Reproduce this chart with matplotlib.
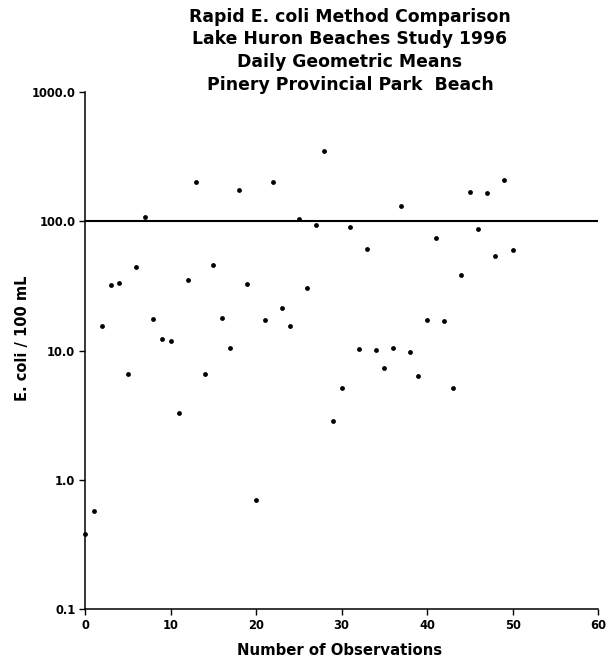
import matplotlib

matplotlib.use("Agg")
import matplotlib.pyplot as plt  # noqa: E402
from matplotlib.ticker import FixedLocator, NullLocator  # noqa: E402

TITLE_LINES = [
    "Rapid E. coli Method Comparison",
    "Lake Huron Beaches Study 1996",
    "Daily Geometric Means",
    "Pinery Provincial Park  Beach",
]

# daily geometric mean E. coli counts (per 100 mL), one per observation
ecoli = [
    0.38, 0.57, 15.5, 32.0, 33.0, 6.6, 44.0, 108.0, 17.6, 12.3,
    11.9, 3.27, 35.4, 202.0, 6.6, 46.0, 17.8, 10.5, 174.0, 32.8,
    0.70, 17.3, 200.0, 21.3, 15.5, 105.0, 30.5, 93.0, 348.0, 2.83,
    5.13, 90.0, 10.3, 61.5, 10.1, 7.36, 10.5, 132.0, 9.65, 6.38,
    17.1, 73.6, 17.0, 5.13, 38.3, 169.0, 87.0, 164.0, 53.9, 210.0,
    59.7,
]
observations = list(range(len(ecoli)))

guideline = 100.0
y_ticks = [0.1, 1.0, 10.0, 100.0, 1000.0]
y_tick_labels = ["0.1", "1.0", "10.0", "100.0", "1000.0"]
x_ticks = [0, 10, 20, 30, 40, 50, 60]

FONT = "DejaVu Sans"

fig = plt.figure(figsize=(6.13, 6.61), dpi=100)
ax = fig.add_axes([85 / 613, 52 / 661, 513 / 613, 517 / 661])

ax.set_yscale("log")
ax.set_ylim(0.1, 1000.0)
ax.set_xlim(0, 60)

ax.scatter(observations, ecoli, s=12, color="black", linewidths=0, zorder=3,
           clip_on=False)
ax.axhline(guideline, color="black", linewidth=1.5, zorder=2)

for side in ("top", "right"):
    ax.spines[side].set_visible(False)
for side in ("left", "bottom"):
    ax.spines[side].set_linewidth(1.1)

ax.yaxis.set_major_locator(FixedLocator(y_ticks))
ax.yaxis.set_minor_locator(NullLocator())
ax.set_yticklabels(y_tick_labels)
ax.set_xticks(x_ticks)
ax.tick_params(axis="both", direction="out", length=4, width=1.0, pad=3,
               labelsize=8.3)
for lbl in ax.get_xticklabels() + ax.get_yticklabels():
    lbl.set_fontfamily(FONT)
    lbl.set_fontweight("bold")

ax.set_xlabel("Number of Observations", fontsize=10.7, fontweight="bold",
              family=FONT)
ax.xaxis.set_label_coords(0.497, -0.066)
ax.set_ylabel("E. coli / 100 mL", fontsize=10.5, fontweight="bold",
              family=FONT, va="center")
ax.yaxis.set_label_coords(-0.121, 0.524)

# four stacked title lines, baselines ~23 px apart
for i, line in enumerate(TITLE_LINES):
    y_px = 21.5 + 22.7 * i
    fig.text(350 / 613, 1 - y_px / 661, line, ha="center", va="baseline",
             fontsize=12.4, fontweight="bold", family=FONT)

fig.savefig("out.png", dpi=100)
plt.close(fig)
